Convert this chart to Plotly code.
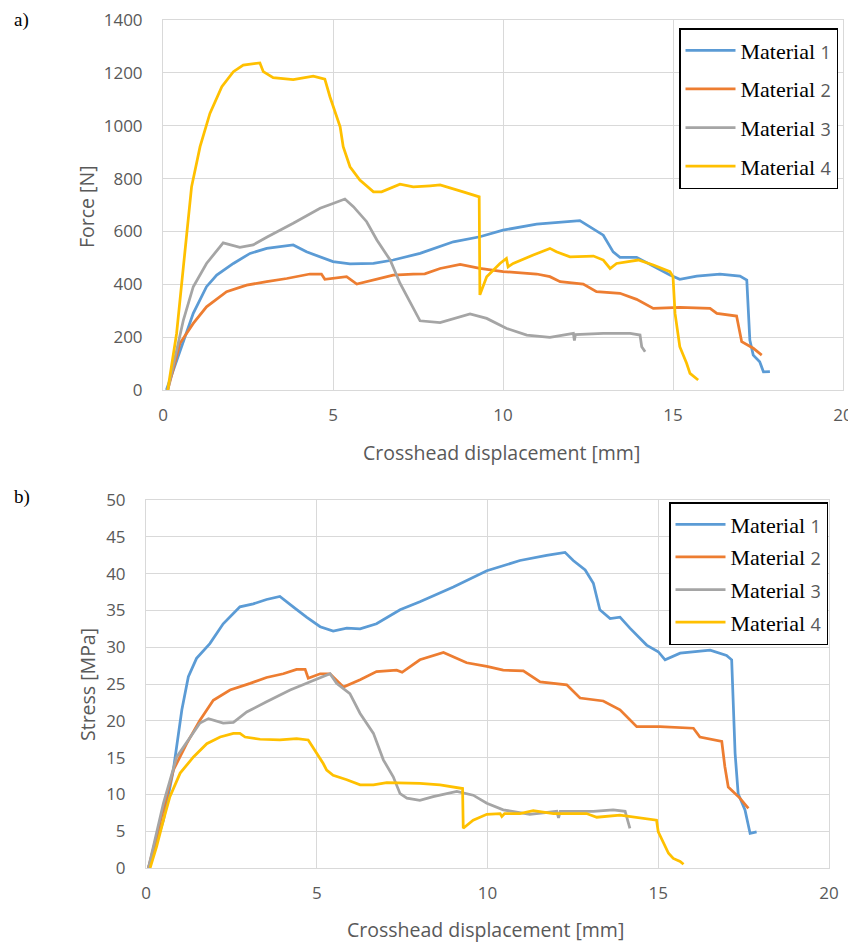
import plotly.graph_objects as go

# ---------------- data: a) Force vs crosshead displacement ----------------
f1_x = [0.1, 0.5, 0.89, 1.28, 1.58, 2.07, 2.56, 3.05, 3.83, 4.22, 4.62, 5.0, 5.5, 6.19, 6.77, 7.56, 8.54, 9.32,
        10.0, 10.99, 12.26, 12.56, 12.95, 13.24, 13.44, 13.93, 14.42, 14.91, 15.2, 15.7, 16.38, 16.97, 17.17,
        17.26, 17.36, 17.55, 17.66, 17.85]
f1_y = [0, 151, 290, 391, 435, 479, 517, 536, 549, 523, 504, 486, 477, 479, 492, 517, 561, 580,
        605, 628, 641, 618, 586, 523, 502, 502, 467, 435, 419, 431, 439, 431, 416,
        189, 132, 107, 69, 70]

f2_x = [0.14, 0.5, 0.89, 1.28, 1.87, 2.46, 3.05, 3.64, 4.32, 4.66, 4.76, 5.4, 5.7, 6.19, 6.77, 7.36, 7.7, 8.15,
        8.74, 9.32, 10.0, 10.99, 11.38, 11.68, 12.36, 12.75, 13.44, 13.93, 14.42, 15.2, 16.09, 16.29, 16.87,
        17.02, 17.36, 17.61]
f2_y = [0, 177, 252, 315, 372, 397, 410, 422, 439, 439, 419, 429, 401, 416, 435, 439, 440, 460,
        475, 460, 448, 439, 429, 410, 401, 372, 366, 343, 309, 313, 309, 290, 280,
        183, 158, 132]

f3_x = [0.14, 0.6, 0.89, 1.28, 1.77, 2.26, 2.65, 3.05, 3.83, 4.62, 5.0, 5.35, 5.6, 5.99, 6.29, 6.68, 6.97, 7.26,
        7.56, 8.15, 9.03, 9.52, 10.11, 10.7, 11.38, 12.07, 12.1, 12.13, 12.95, 13.74, 14.03, 14.08, 14.18]
f3_y = [0, 265, 391, 479, 557, 540, 549, 578, 631, 688, 706, 723, 694, 637, 568, 492, 404, 334,
        262, 255, 288, 271, 233, 208, 199, 214, 187, 210, 214, 214, 208, 164, 145]

f4_x = [0.14, 0.40, 0.60, 0.84, 1.09, 1.38, 1.73, 2.07, 2.36, 2.85, 2.95, 3.24, 3.83, 4.42, 4.76, 4.91, 5.21,
        5.30, 5.5, 5.79, 6.19, 6.43, 6.97, 7.36, 7.86, 8.15, 8.83, 9.30, 9.32, 9.52, 9.91, 10.1, 10.15, 10.3,
        10.89, 11.38, 11.57, 11.97, 12.66, 12.95, 13.15, 13.34, 13.98, 14.42, 14.91, 15.0, 15.06, 15.2, 15.4,
        15.5, 15.74]
f4_y = [0, 214, 467, 769, 921, 1047, 1148, 1205, 1230, 1238, 1205, 1182, 1175, 1188, 1177, 1110, 996,
        921, 845, 795, 750, 750, 779, 769, 773, 776, 750, 731, 360, 429, 479, 498, 466, 479,
        511, 536, 523, 504, 507, 492, 460, 479, 492, 473, 448, 429, 290, 164, 101,
        63, 38]

# ---------------- data: b) Stress vs crosshead displacement ----------------
s1_x = [0.07, 0.51, 0.8, 1.05, 1.24, 1.48, 1.87, 2.26, 2.75, 3.14, 3.53, 3.92, 4.31, 4.70, 5.10, 5.48, 5.88,
        6.27, 6.75, 7.44, 8.02, 9.0, 9.98, 10.95, 11.73, 12.27, 12.51, 12.86, 13.1, 13.29, 13.59, 13.88, 14.17,
        14.66, 15.0, 15.2, 15.64, 16.52, 17.0, 17.15, 17.25, 17.34, 17.54, 17.69, 17.88]
s1_y = [0, 6.5, 13.3, 21.5, 26.0, 28.5, 30.5, 33.2, 35.5, 35.9, 36.5, 36.9, 35.5, 34.1, 32.8, 32.2, 32.6,
        32.5, 33.2, 35.1, 36.2, 38.2, 40.4, 41.8, 42.5, 42.9, 41.8, 40.5, 38.7, 35.1, 33.9, 34.1, 32.6,
        30.3, 29.4, 28.3, 29.2, 29.6, 28.9, 28.3, 15.6, 10.1, 7.9, 4.7, 4.9]

s2_x = [0.07, 0.41, 0.8, 1.19, 1.58, 1.97, 2.46, 3.05, 3.53, 4.02, 4.41, 4.66, 4.75, 5.10, 5.39, 5.78, 6.27,
        6.75, 7.34, 7.5, 8.02, 8.71, 9.0, 9.39, 9.98, 10.46, 11.05, 11.54, 12.32, 12.71, 13.39, 13.88, 14.37,
        15.05, 16.03, 16.22, 16.86, 16.95, 17.05, 17.39, 17.64]
s2_y = [0, 6.1, 13.3, 16.9, 20.1, 22.8, 24.2, 25.1, 25.9, 26.4, 27.0, 27.0, 25.8, 26.4, 26.4, 24.6, 25.6,
        26.7, 26.9, 26.6, 28.3, 29.3, 28.7, 27.9, 27.4, 26.9, 26.8, 25.3, 24.9, 23.1, 22.7, 21.5, 19.2,
        19.2, 19.0, 17.8, 17.2, 13.8, 11.0, 9.5, 8.1]

s3_x = [0.07, 0.51, 0.9, 1.29, 1.58, 1.83, 2.26, 2.56, 2.95, 3.53, 4.22, 4.90, 5.39, 5.58, 5.97, 6.27, 6.66,
        6.95, 7.24, 7.44, 7.64, 8.02, 8.41, 9.10, 9.58, 9.98, 10.46, 11.24, 12.03, 12.08, 12.13, 13.1, 13.68,
        14.03, 14.12, 14.17]
s3_y = [0, 8.8, 15.1, 17.8, 19.7, 20.3, 19.7, 19.8, 21.2, 22.6, 24.2, 25.5, 26.4, 25.1, 23.7, 21.0, 18.3,
        14.7, 12.4, 10.1, 9.5, 9.2, 9.7, 10.4, 9.9, 8.8, 7.9, 7.3, 7.7, 6.8, 7.7, 7.7, 7.9,
        7.7, 6.1, 5.4]

s4_x = [0.12, 0.31, 0.51, 0.70, 1.0, 1.39, 1.78, 2.17, 2.56, 2.75, 2.9, 3.34, 3.92, 4.41, 4.75, 4.95, 5.19,
        5.29, 5.48, 5.88, 6.27, 6.66, 7.05, 8.02, 8.61, 9.27, 9.29, 9.58, 9.98, 10.37, 10.42, 10.5, 10.95,
        11.34, 11.93, 12.9, 13.2, 13.88, 14.17, 14.95, 15.0, 15.15, 15.3, 15.44, 15.64, 15.74]
s4_y = [0, 2.9, 6.5, 9.7, 12.9, 15.1, 16.9, 17.8, 18.3, 18.3, 17.8, 17.5, 17.4, 17.6, 17.4, 16.0, 14.2,
        13.3, 12.6, 12.0, 11.3, 11.3, 11.6, 11.5, 11.3, 10.8, 5.4, 6.5, 7.3, 7.4, 7.0, 7.4, 7.4,
        7.8, 7.4, 7.4, 6.9, 7.2, 7.0, 6.5, 4.9, 3.4, 2.0, 1.3, 0.9, 0.5]

series_names = ["Material 1", "Material 2", "Material 3", "Material 4"]
colors = ["#5B9BD5", "#ED7D31", "#A5A5A5", "#FFC000"]
x_ticks = [0, 5, 10, 15, 20]
force_ticks = [0, 200, 400, 600, 800, 1000, 1200, 1400]
stress_ticks = [0, 5, 10, 15, 20, 25, 30, 35, 40, 45, 50]

# page body has an 8px margin: figure is sized to fit the window exactly
OFF = 8
W, H = 856 - OFF, 943 - OFF


def fx(px):
    return (px - OFF) / W


def fy(py):
    return 1 - (py - OFF) / H


def legend_label(name):
    word, num = name.split(" ")
    return f"{word} <span style='font-family:Open Sans;font-size:18px;color:#595959'>{num}</span>"


fig = go.Figure()
top = [(f1_x, f1_y), (f2_x, f2_y), (f3_x, f3_y), (f4_x, f4_y)]
bot = [(s1_x, s1_y), (s2_x, s2_y), (s3_x, s3_y), (s4_x, s4_y)]
for i, (xs, ys) in enumerate(top):
    fig.add_trace(go.Scatter(x=xs, y=ys, mode="lines", name=legend_label(series_names[i]),
                             line=dict(color=colors[i], width=2.75), xaxis="x", yaxis="y",
                             legend="legend", legendgroup=f"a{i}", cliponaxis=True))
for i, (xs, ys) in enumerate(bot):
    fig.add_trace(go.Scatter(x=xs, y=ys, mode="lines", name=legend_label(series_names[i]),
                             line=dict(color=colors[i], width=2.75), xaxis="x2", yaxis="y2",
                             legend="legend2", legendgroup=f"b{i}", cliponaxis=True))

tickfont = dict(family="Open Sans", size=17, color="#595959")
grid = "#D9D9D9"
common_x = dict(range=[0, 20], tickvals=x_ticks, showgrid=True, gridcolor=grid, gridwidth=1,
                zeroline=False, showline=True, linecolor=grid, linewidth=1, mirror=True,
                tickfont=tickfont, ticks="", ticklabelstandoff=10, fixedrange=True, automargin=False)
common_y = dict(showgrid=True, gridcolor=grid, gridwidth=1, zeroline=False, showline=True,
                linecolor=grid, linewidth=1, mirror=True, tickfont=tickfont, ticks="",
                ticklabelstandoff=16, fixedrange=True, automargin=False, tickmode="array")

legend_common = dict(bgcolor="white", bordercolor="black", borderwidth=1.5,
                     font=dict(family="Liberation Serif", size=22, color="black"),
                     xanchor="left", yanchor="top", traceorder="grouped", itemwidth=50)

fig.update_layout(
    width=W, height=H,
    margin=dict(l=0, r=0, t=0, b=0, autoexpand=False),
    paper_bgcolor="white", plot_bgcolor="white",
    xaxis=dict(domain=[fx(163), fx(843)], anchor="y", **common_x),
    yaxis=dict(domain=[fy(390), fy(20)], anchor="x", range=[0, 1400.5], tickvals=force_ticks, **common_y),
    xaxis2=dict(domain=[fx(146), fx(829)], anchor="y2", **common_x),
    yaxis2=dict(domain=[fy(868), fy(500)], anchor="x2", range=[0, 50.02], tickvals=stress_ticks, **common_y),
    legend=dict(x=fx(679), y=fy(28), tracegroupgap=7, **legend_common),
    legend2=dict(x=fx(669), y=fy(502), tracegroupgap=1, **legend_common),
    showlegend=True,
)

axis_title_font = dict(family="Open Sans", size=19.5, color="#595959")
label_font = dict(family="Liberation Serif", size=19, color="black")
fig.add_annotation(text="a)", x=fx(12), y=fy(20), xref="paper", yref="paper", showarrow=False,
                   xanchor="left", yanchor="middle", font=label_font)
fig.add_annotation(text="b)", x=fx(12), y=fy(497), xref="paper", yref="paper", showarrow=False,
                   xanchor="left", yanchor="middle", font=label_font)
fig.add_annotation(text="Force [N]", x=fx(86), y=fy(207), xref="paper", yref="paper", showarrow=False,
                   xanchor="center", yanchor="middle", textangle=-90, font=axis_title_font)
fig.add_annotation(text="Stress [MPa]", x=fx(87), y=fy(685), xref="paper", yref="paper", showarrow=False,
                   xanchor="center", yanchor="middle", textangle=-90, font=axis_title_font)
fig.add_annotation(text="Crosshead displacement [mm]", x=fx(502), y=fy(452), xref="paper", yref="paper",
                   xanchor="center", yanchor="middle", showarrow=False, font=axis_title_font)
fig.add_annotation(text="Crosshead displacement [mm]", x=fx(486), y=fy(929), xref="paper", yref="paper",
                   xanchor="center", yanchor="middle", showarrow=False, font=axis_title_font)

fig.write_html("out.html")
